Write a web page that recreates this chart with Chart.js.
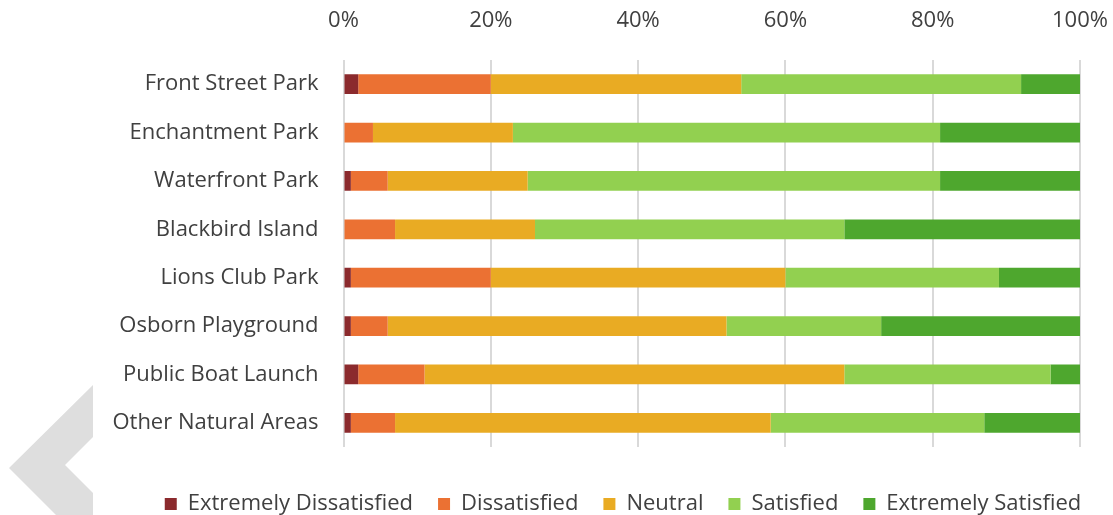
<!DOCTYPE html>
<html>
<head>
<meta charset="utf-8">
<script src="https://cdn.jsdelivr.net/npm/chart.js@4.4.1/dist/chart.umd.min.js"></script>
<style>
  html, body { margin: 0; padding: 0; background: #fff; }
  #wrap { width: 1113px; height: 515px; position: relative; }
</style>
</head>
<body>
<div id="wrap"><canvas id="parksChart"></canvas></div>
<script>
// Satisfaction survey, percent of responses per park
var parks = ['Front Street Park', 'Enchantment Park', 'Waterfront Park', 'Blackbird Island',
  'Lions Club Park', 'Osborn Playground', 'Public Boat Launch', 'Other Natural Areas']
var extremelyDissatisfied = [2, 0, 1, 0, 1, 1, 2, 1]
var dissatisfied = [18, 4, 5, 7, 19, 5, 9, 6]
var neutral = [34, 19, 19, 19, 40, 46, 57, 51]
var satisfied = [38, 58, 56, 42, 29, 21, 28, 29]
var extremelySatisfied = [8, 19, 19, 32, 11, 27, 4, 13]
var tickLabels = ['0%', '20%', '40%', '60%', '80%', '100%']

var fontFamily = '"Open Sans", sans-serif'
var textColor = '#404040'
var legendCenter = 623

// grey chevron in the lower left corner
var chevron = {
  id: 'chevron',
  beforeDraw: function (chart) {
    var ctx = chart.ctx
    ctx.save()
    ctx.fillStyle = '#dedede'
    ctx.beginPath()
    ctx.moveTo(93, 385)
    ctx.lineTo(93, 437)
    ctx.lineTo(65, 465)
    ctx.lineTo(93, 493)
    ctx.lineTo(93, 515)
    ctx.lineTo(56, 515)
    ctx.lineTo(9, 468)
    ctx.closePath()
    ctx.fill()
    ctx.restore()
  }
}

// slide the legend row so it sits under the plot rather than the whole canvas
var legendShift = {
  id: 'legendShift',
  afterLayout: function (chart) {
    var lg = chart.legend
    if (!lg) return
    var dx = legendCenter - (lg.left + lg.right) / 2
    lg.left += dx
    lg.right += dx
  }
}

function makeSet(label, data, color) {
  return {
    label: label,
    data: data,
    backgroundColor: color,
    borderWidth: 0,
    barPercentage: 0.41,
    categoryPercentage: 1
  }
}

var ctx = document.getElementById('parksChart').getContext('2d')
var chart = new Chart(ctx, {
  type: 'bar',
  data: {
    labels: parks,
    datasets: [
      makeSet('Extremely Dissatisfied', extremelyDissatisfied, '#8b2a2d'),
      makeSet('Dissatisfied', dissatisfied, '#eb7133'),
      makeSet('Neutral', neutral, '#e9ab23'),
      makeSet('Satisfied', satisfied, '#92d050'),
      makeSet('Extremely Satisfied', extremelySatisfied, '#4ea72e')
    ]
  },
  options: {
    indexAxis: 'y',
    responsive: true,
    maintainAspectRatio: false,
    animation: false,
    layout: { padding: { left: 0, right: 33, top: 0, bottom: -10 } },
    scales: {
      x: {
        position: 'top',
        stacked: true,
        min: 0,
        max: 100,
        border: { display: false },
        grid: { color: '#d9d9d9', lineWidth: 2, drawTicks: false },
        afterFit: function (scale) {
          scale.height = 60
          scale.paddingLeft = 0
          scale.paddingRight = 0
        },
        ticks: {
          stepSize: 20,
          padding: 26,
          color: textColor,
          font: { family: fontFamily, size: 22 },
          callback: function (value) { return tickLabels[value / 20] }
        }
      },
      y: {
        stacked: true,
        border: { display: false },
        grid: { display: false, drawTicks: false },
        afterFit: function (scale) { scale.width = 343.5 },
        ticks: {
          padding: 25,
          color: textColor,
          font: { family: fontFamily, size: 22 }
        }
      }
    },
    plugins: {
      tooltip: { enabled: false },
      legend: {
        position: 'bottom',
        title: { display: true, text: '', padding: { top: 9, bottom: 0 }, font: { size: 10 } },
        labels: {
          boxWidth: 12,
          boxHeight: 12,
          padding: 25,
          color: textColor,
          font: { family: fontFamily, size: 22 }
        }
      }
    }
  },
  plugins: [chevron, legendShift]
})
</script>
</body>
</html>
